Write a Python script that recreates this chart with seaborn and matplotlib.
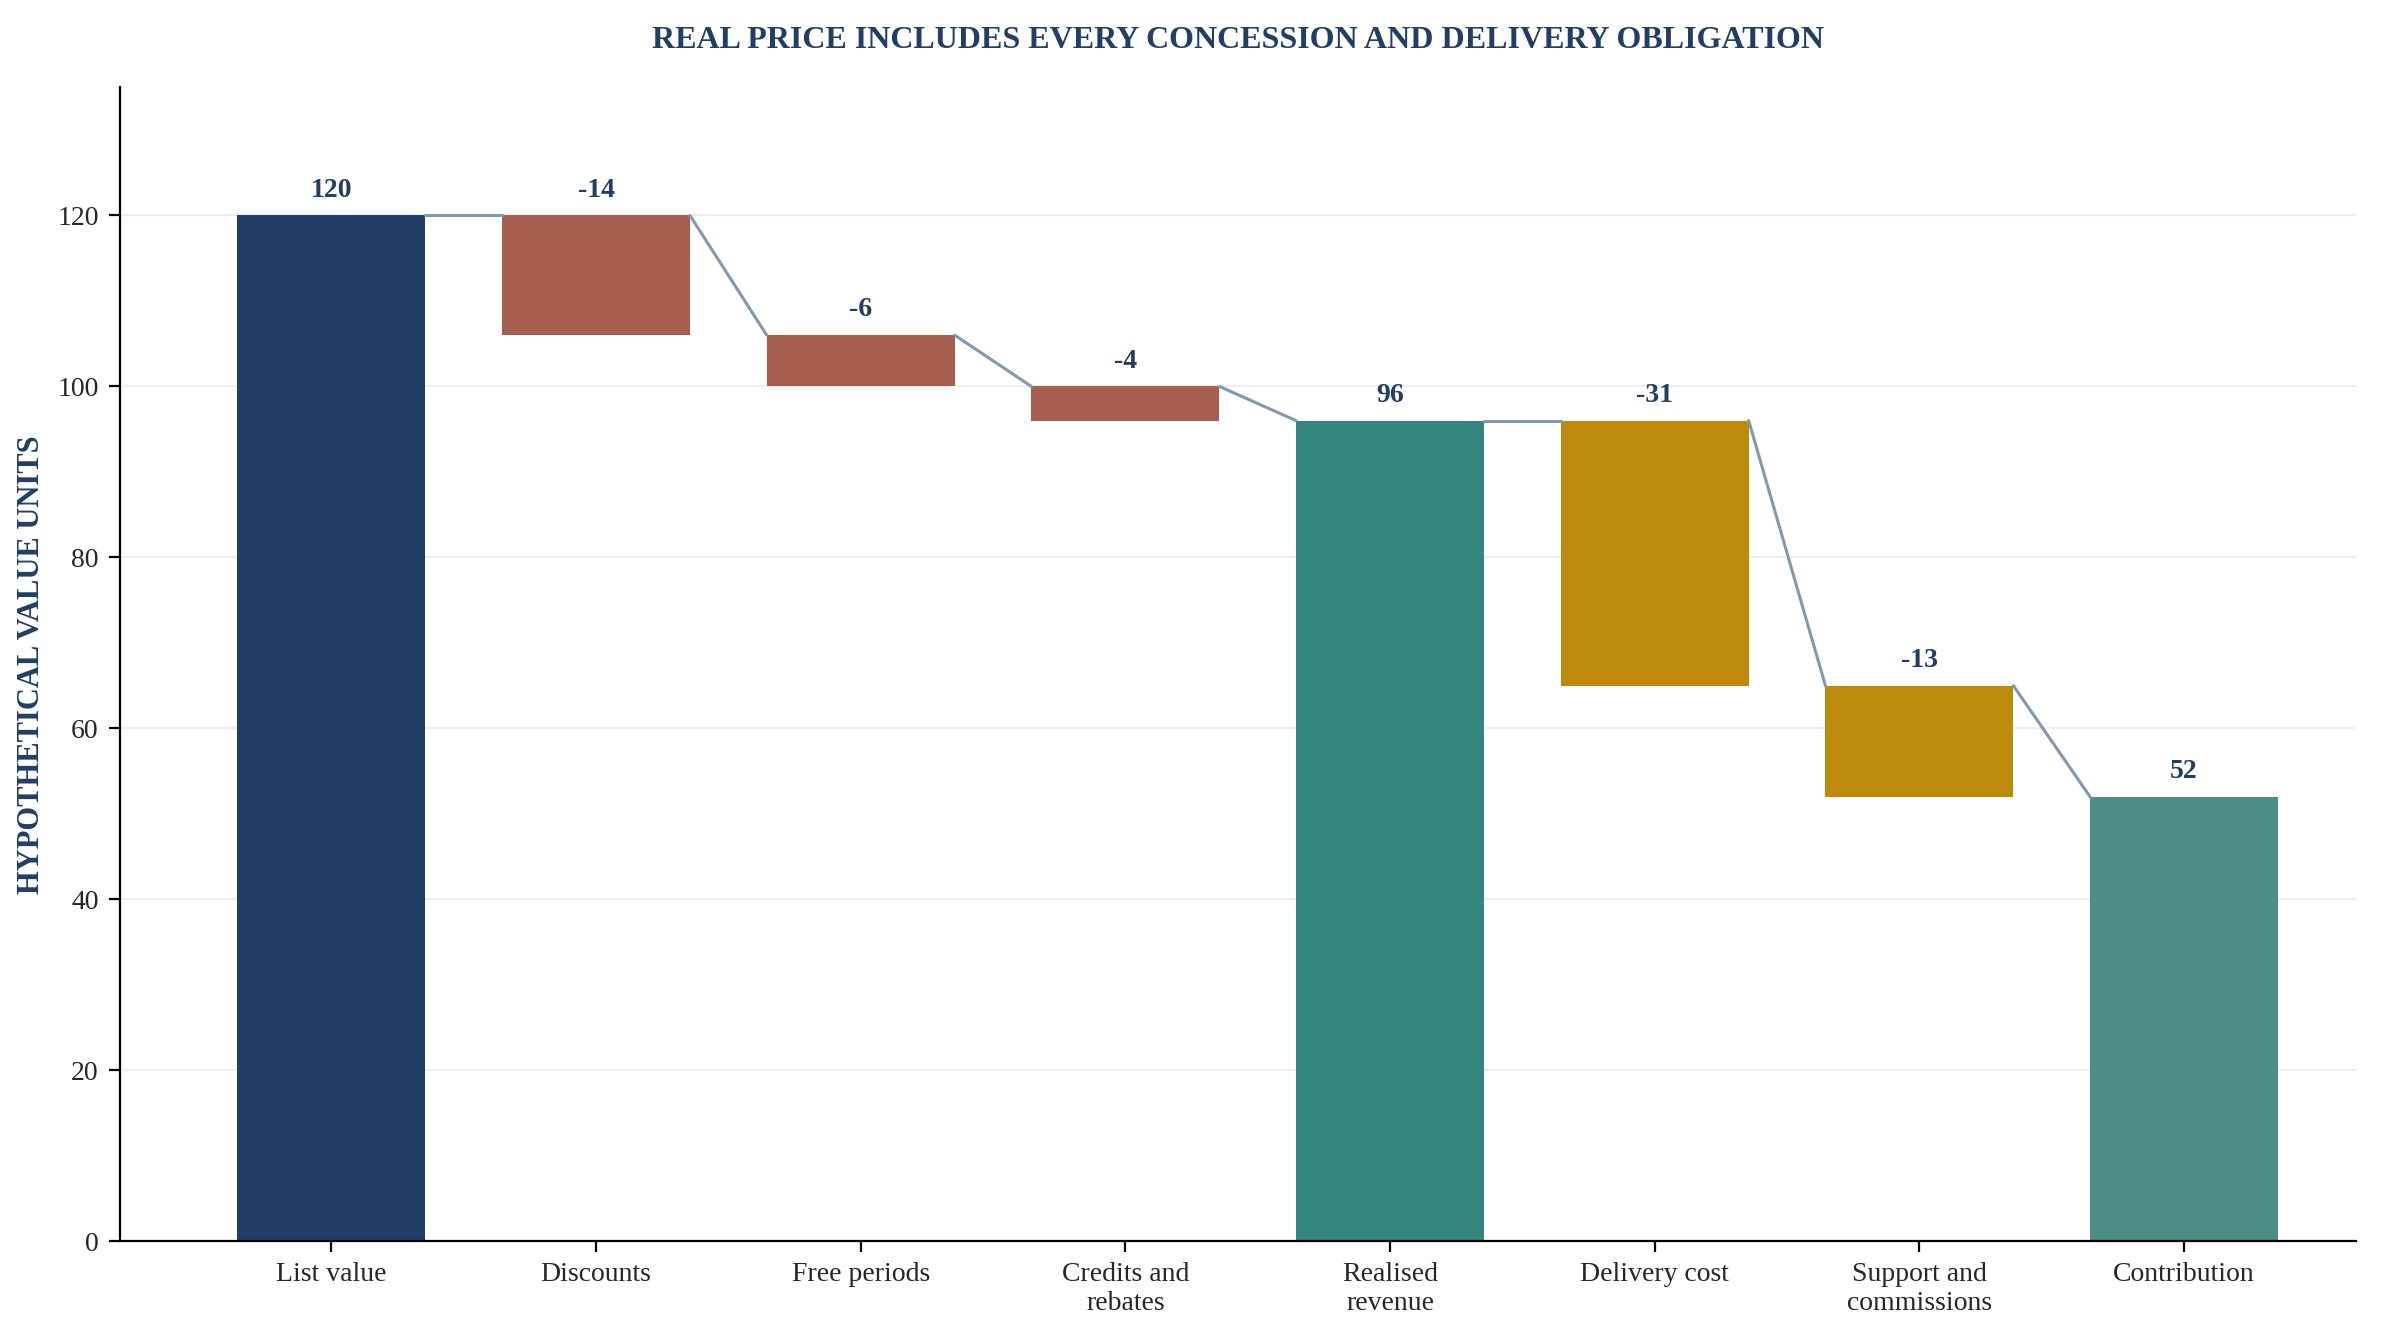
import numpy as np
import pandas as pd
import matplotlib
matplotlib.use("Agg")
import matplotlib.pyplot as plt
import seaborn as sns

# === Data ===
categories = ["List value", "Discounts", "Free periods", "Credits and\nrebates",
              "Realised\nrevenue", "Delivery cost", "Support and\ncommissions", "Contribution"]
values = [120, -14, -6, -4, 96, -31, -13, 52]
kinds = ["total", "step", "step", "step", "total", "step", "step", "total"]
colors = ["#213F66", "#A65E4E", "#A65E4E", "#A65E4E", "#33857D", "#BD8A0B", "#BD8A0B", "#4C8E85"]

# === Waterfall geometry ===
bottoms, heights, tops = [], [], []
level = 0
for v, k in zip(values, kinds):
    if k == "total":
        level = v
        bottoms.append(0); heights.append(v); tops.append(v)
    else:
        bottoms.append(level + v); heights.append(-v); tops.append(level)
        level += v
df = pd.DataFrame({"cat": categories, "h": heights, "b": bottoms})

sns.set_style("white")
plt.rcParams["font.family"] = ["Liberation Serif", "DejaVu Serif"]

fig, ax = plt.subplots(figsize=(11.96, 6.71), dpi=200)
ax.grid(axis="y", color="#EEEEEE", lw=0.8)
ax.set_axisbelow(True)
sns.barplot(data=df, x="cat", y="h", color=colors[0], bottom=df["b"].values,
            width=0.71, ax=ax, saturation=1, linewidth=0)
for patch, c in zip(ax.patches, colors):
    patch.set_facecolor(c)
    patch.set_edgecolor(c)

w = 0.71 / 2
for i in range(len(values) - 1):
    ax.plot([i + w, i + 1 - w], [tops[i], tops[i + 1]], color="#8098B0", lw=1.1, zorder=1)
for i, v in enumerate(values):
    ax.text(i, tops[i] + 1.5, f"{v}", ha="center", va="bottom", fontsize=10,
            fontweight="bold", color="#213F66")

ax.set_ylim(0, 135)
ax.set_xlim(-0.8, 7.65)
ax.set_yticks(range(0, 121, 20))
ax.set_xlabel("")
ax.set_ylabel("HYPOTHETICAL VALUE UNITS", fontsize=11, fontweight="bold", color="#213F66")
ax.tick_params(axis="both", labelsize=10, length=4, color="black", direction="out", bottom=True, left=True)
for s in ["top", "right"]:
    ax.spines[s].set_visible(False)
for s in ["left", "bottom"]:
    ax.spines[s].set_color("black")
ax.set_title("REAL PRICE INCLUDES EVERY CONCESSION AND DELIVERY OBLIGATION",
             fontsize=11.5, fontweight="bold", color="#213F66", pad=14)
plt.subplots_adjust(left=0.05, right=0.985, top=0.935, bottom=0.075)
plt.savefig("out.png", dpi=200)
